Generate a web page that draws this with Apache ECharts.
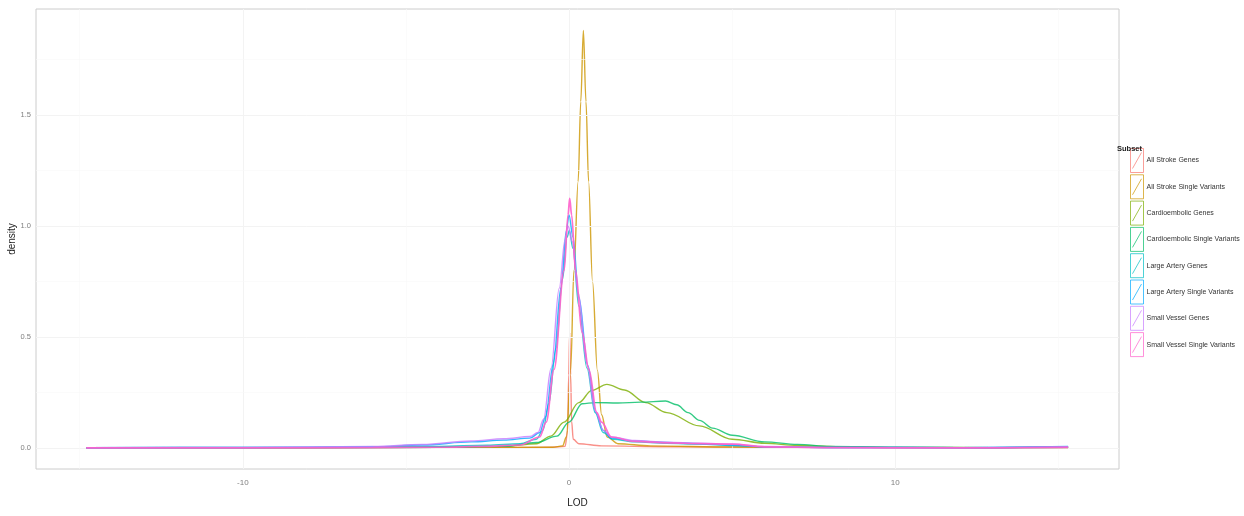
<!DOCTYPE html>
<html>
<head>
<meta charset="utf-8">
<script src="https://cdn.jsdelivr.net/npm/echarts@6/dist/echarts.min.js"></script>
<style>
html,body{margin:0;padding:0;background:#fff;}
#chart{width:1244px;height:516px;}
</style>
</head>
<body>
<div id="chart"></div>
<script>
// ---------- data ----------
const subsetNames = [
  'All Stroke Genes', 'All Stroke Single Variants', 'Cardioembolic Genes',
  'Cardioembolic Single Variants', 'Large Artery Genes', 'Large Artery Single Variants',
  'Small Vessel Genes', 'Small Vessel Single Variants'
];
const xTicks = [-10, 0, 10];
const yTicks = [0.0, 0.5, 1.0, 1.5];
const xMinorGrid = [-15, -5, 5, 15];
const yMinorGrid = [0.25, 0.75, 1.25, 1.75];

const allStrokeGenes = [[-14.8,0.001],[-10,0.001],[-5,0.002],[-2,0.003],[-0.5,0.004],[-0.12,0.008],[-0.04,0.08],[-0.01,0.33],[0.02,0.52],[0.05,0.33],[0.08,0.12],[0.13,0.04],[0.3,0.02],[1.0,0.01],[3,0.006],[6,0.004],[10,0.002],[15.3,0.002]];
const allStrokeSingle = [[-14.8,0.001],[-8,0.001],[-3,0.002],[-0.5,0.004],[-0.2,0.01],[-0.08,0.05],[0.05,0.35],[0.15,0.8],[0.28,1.2],[0.36,1.56],[0.44,1.88],[0.52,1.56],[0.6,1.2],[0.72,0.75],[0.87,0.35],[1.0,0.15],[1.17,0.05],[1.5,0.02],[2.5,0.01],[5,0.005],[10,0.002],[15.3,0.002]];
const cardioGenes = [[-14.8,0.001],[-8,0.002],[-4,0.004],[-2,0.008],[-1,0.02],[-0.56,0.054],[-0.15,0.117],[0.3,0.205],[0.7,0.26],[1.16,0.287],[1.7,0.262],[2.35,0.205],[3.0,0.16],[4.0,0.1],[5,0.04],[6,0.022],[7,0.012],[8.5,0.005],[10,0.003],[13,0.002],[15.3,0.003]];
const cardioSingle = [[-14.8,0.001],[-8,0.002],[-4,0.004],[-2,0.008],[-1,0.025],[-0.37,0.054],[0,0.117],[0.4,0.2],[0.8,0.205],[1.5,0.203],[2.2,0.207],[2.96,0.212],[3.3,0.195],[3.65,0.16],[4.0,0.125],[4.4,0.09],[5.0,0.058],[6.0,0.028],[7.0,0.017],[8,0.008],[10,0.004],[13,0.002],[15.3,0.004]];
const largeArteryGenes = [[-14.8,0.002],[-10,0.003],[-6,0.004],[-4,0.008],[-2.5,0.013],[-1.5,0.02],[-1.0,0.04],[-0.8,0.08],[-0.62,0.2],[-0.4,0.45],[-0.2,0.76],[-0.06,0.95],[0.01,0.98],[0.12,0.9],[0.3,0.64],[0.55,0.36],[0.8,0.16],[1.05,0.07],[1.35,0.04],[2,0.028],[3,0.022],[4,0.018],[5,0.012],[6,0.006],[8,0.003],[12,0.002],[15.3,0.006]];
const largeArterySingle = [[-14.8,0.002],[-10,0.003],[-6,0.006],[-4.5,0.014],[-3,0.028],[-2,0.036],[-1.2,0.045],[-0.9,0.07],[-0.72,0.14],[-0.48,0.38],[-0.25,0.72],[-0.08,0.98],[0.0,1.05],[0.12,0.95],[0.3,0.68],[0.58,0.37],[0.82,0.16],[1.05,0.08],[1.3,0.045],[2,0.032],[3,0.026],[4,0.02],[5,0.014],[6,0.006],[8,0.003],[12,0.002],[15.3,0.007]];
const smallVesselGenes = [[-14.8,0.002],[-10,0.003],[-6,0.007],[-4.5,0.016],[-3,0.032],[-2,0.042],[-1.2,0.052],[-0.95,0.07],[-0.78,0.13],[-0.55,0.36],[-0.3,0.72],[-0.12,0.94],[-0.03,1.0],[0.1,0.93],[0.28,0.7],[0.55,0.38],[0.8,0.17],[1.05,0.08],[1.3,0.05],[2,0.034],[3,0.027],[4,0.022],[5,0.018],[6,0.007],[8,0.003],[12,0.002],[15.3,0.006]];
const smallVesselSingle = [[-14.8,0.001],[-10,0.001],[-6,0.002],[-4,0.004],[-2.5,0.008],[-1.5,0.014],[-0.9,0.05],[-0.7,0.117],[-0.46,0.354],[-0.15,0.8],[-0.03,1.05],[0.02,1.125],[0.08,1.05],[0.2,0.8],[0.4,0.52],[0.61,0.354],[0.85,0.16],[1.0,0.117],[1.3,0.05],[2,0.03],[3,0.024],[4,0.02],[5,0.018],[6,0.006],[8,0.002],[12,0.001],[15.3,0.003]];

const seriesData = [allStrokeGenes, allStrokeSingle, cardioGenes, cardioSingle,
  largeArteryGenes, largeArterySingle, smallVesselGenes, smallVesselSingle];
const colors = ['#F8766D', '#CD9600', '#7CAE00', '#00BE67', '#00BFC4', '#00A9FF', '#C77CFF', '#FF61CC'];

// ---------- chart ----------
const font = '"Liberation Sans", Arial, sans-serif';
const chart = echarts.init(document.getElementById('chart'), null, {renderer: 'canvas'});

const gridLines = {
  type: 'line', data: [], silent: true, symbol: 'none',
  markLine: {
    silent: true, symbol: 'none', label: {show: false},
    lineStyle: {color: '#F3F3F3', width: 1, type: 'solid'},
    data: [
      ...xTicks.map(v => ({xAxis: v})),
      ...yTicks.map(v => ({yAxis: v})),
      ...xMinorGrid.map(v => ({xAxis: v, lineStyle: {color: '#F8F8F8', width: 0.6}})),
      ...yMinorGrid.map(v => ({yAxis: v, lineStyle: {color: '#F8F8F8', width: 0.6}}))
    ]
  }
};

const series = [gridLines].concat(subsetNames.map((name, i) => ({
  name: name,
  type: 'line',
  data: seriesData[i],
  symbol: 'none',
  smooth: 0.35,
  smoothMonotone: 'x',
  clip: true,
  lineStyle: {color: colors[i], width: i === 7 ? 1.7 : 1.4, opacity: i === 7 ? 0.9 : 0.8},
  itemStyle: {color: colors[i]},
  z: 3 + i
})));

const option = {
  animation: false,
  backgroundColor: '#fff',
  textStyle: {fontFamily: font},
  grid: {left: 36, right: 125, top: 9, bottom: 47, outerBoundsMode: 'none', containLabel: false,
    show: true, borderColor: '#CCCCCC', borderWidth: 1, backgroundColor: 'transparent'},
  title: {
    text: 'Subset', left: 1117, top: 145, padding: 0,
    textStyle: {fontFamily: font, fontSize: 7.5, fontWeight: 'bold', color: '#222'}
  },
  legend: {
    orient: 'vertical', left: 1130, top: 148, padding: 0,
    itemWidth: 13, itemHeight: 24, itemGap: 1.3,
    icon: 'path://M0,0L13,0L13,24L0,24Z M2,20L11,4',
    symbolKeepAspect: false,
    textStyle: {fontFamily: font, fontSize: 7, color: '#333', padding: [0, 0, 0, -2]},
    data: subsetNames.map((n, i) => ({
      name: n,
      itemStyle: {color: 'rgba(255,255,255,0)', borderColor: colors[i], borderWidth: 1, opacity: 0.7}
    }))
  },
  xAxis: {
    type: 'value', min: -16.34, max: 16.86,
    name: 'LOD', nameLocation: 'middle', nameGap: 29, nameMoveOverlap: false,
    nameTextStyle: {fontFamily: font, fontSize: 10, color: '#222'},
    axisLine: {show: false},
    axisTick: {show: true, length: 4, lineStyle: {color: '#888'}, customValues: xTicks},
    axisLabel: {customValues: xTicks, fontSize: 8, color: '#7F7F7F', margin: 10, fontFamily: font},
    splitLine: {show: false}
  },
  yAxis: {
    type: 'value', min: -0.094, max: 1.977,
    name: 'density', nameLocation: 'middle', nameGap: 19, nameRotate: 90, nameMoveOverlap: false,
    nameTextStyle: {fontFamily: font, fontSize: 10, color: '#222'},
    axisLine: {show: false},
    axisTick: {show: true, length: 4, lineStyle: {color: '#888'}, customValues: yTicks},
    axisLabel: {customValues: yTicks, fontSize: 7.5, color: '#7F7F7F', margin: 5, fontFamily: font,
      formatter: v => v.toFixed(1)},
    splitLine: {show: false}
  },
  series: series
};
chart.setOption(option);
</script>
</body>
</html>
